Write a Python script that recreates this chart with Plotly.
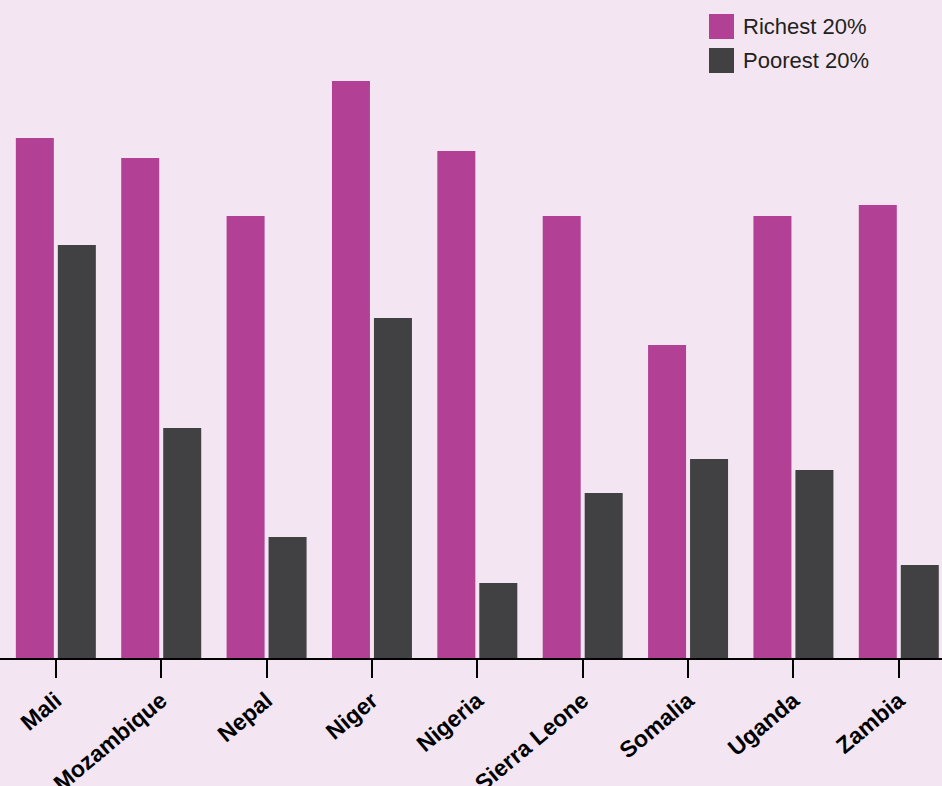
import plotly.graph_objects as go

countries = ["Mali", "Mozambique", "Nepal", "Niger", "Nigeria", "Sierra Leone", "Somalia", "Uganda", "Zambia"]
richest = [52.0, 50.0, 44.2, 57.7, 50.7, 44.2, 31.3, 44.2, 45.3]
poorest = [41.3, 23.0, 12.1, 34.0, 7.5, 16.5, 19.9, 18.8, 9.3]
series_names = ["Richest 20%", "Poorest 20%"]
colors = ["#B24196", "#414042"]
bg = "#F3E6F2"

fig = go.Figure()
fig.add_trace(go.Bar(x=countries, y=richest, name=series_names[0], marker_color=colors[0], marker_line_width=0))
fig.add_trace(go.Bar(x=countries, y=poorest, name=series_names[1], marker_color=colors[1], marker_line_width=0))

# manual legend (large square swatches)
for i, (nm, c) in enumerate(zip(series_names, colors)):
    y0 = 14 + i * 34
    fig.add_shape(type="rect", xref="paper", yref="paper",
                  x0=709 / 942, x1=734 / 942, y0=1 - (y0 + 25) / 658, y1=1 - y0 / 658,
                  fillcolor=c, line_width=0)
    fig.add_annotation(xref="paper", yref="paper", x=741 / 942, y=1 - (y0 + 12.5) / 658,
                       text=nm, showarrow=False, xanchor="left", yanchor="middle",
                       font=dict(family="Liberation Sans, Arial", size=22, color="#231F20"))

fig.update_layout(
    width=942, height=786,
    margin=dict(l=0, r=0, t=0, b=128, autoexpand=False),
    paper_bgcolor=bg, plot_bgcolor=bg,
    barmode="group", bargap=0.203, bargroupgap=0.095,
    showlegend=False,
    xaxis=dict(range=[-0.53, 8.41], showline=True, linecolor="black", linewidth=2,
               ticks="outside", ticklen=18, tickwidth=2, tickcolor="black",
               tickangle=-40, showgrid=False, automargin=False,
               tickfont=dict(family="Liberation Sans, Arial", size=23, color="black", weight="bold")),
    yaxis=dict(range=[0, 65.8], visible=False, showgrid=False, zeroline=False, automargin=False),
)
fig.write_html("out.html", config={"displayModeBar": False},
               post_script="document.body.style.margin='0';document.body.style.background='%s';" % bg)
